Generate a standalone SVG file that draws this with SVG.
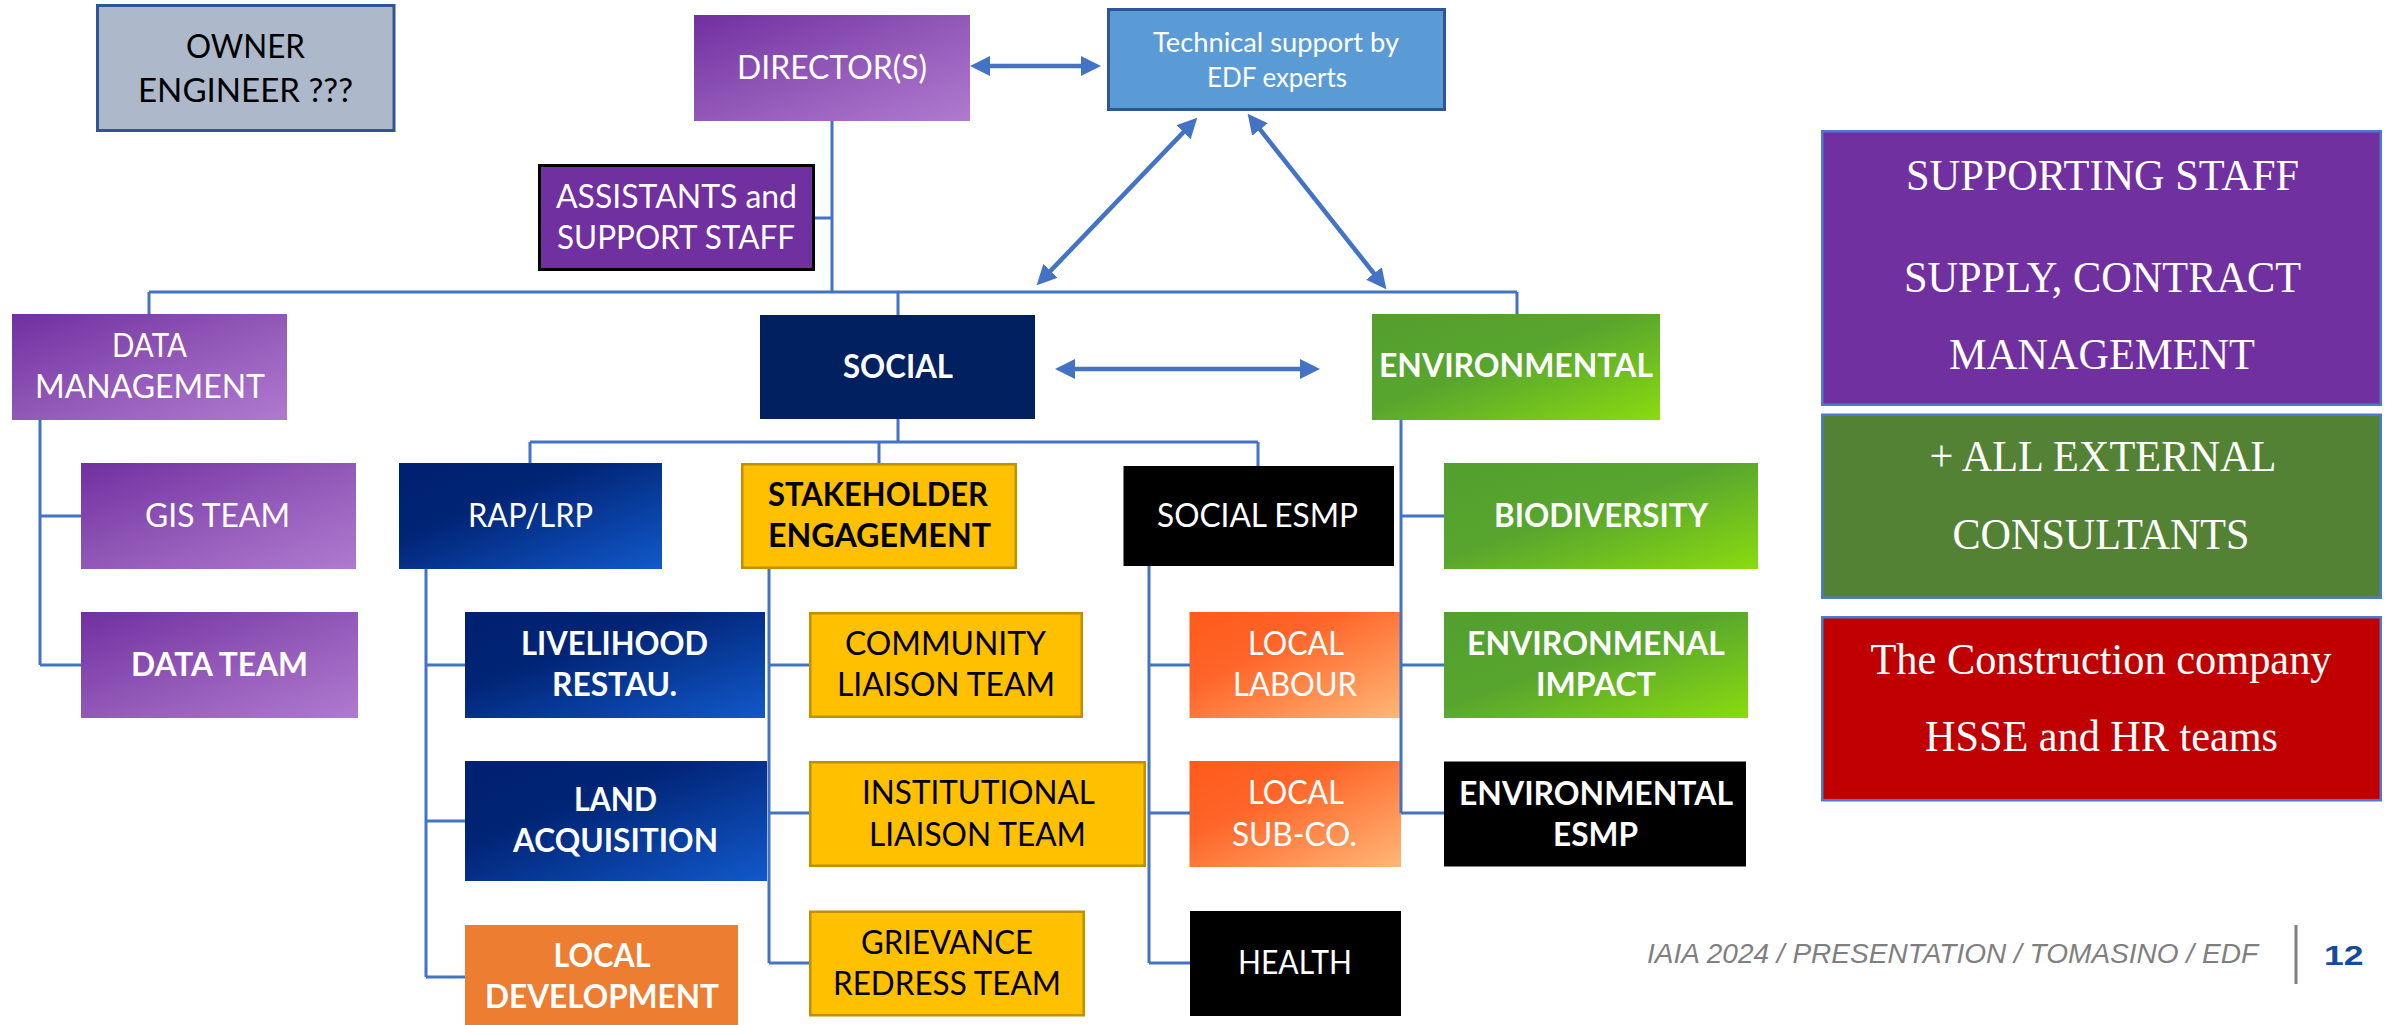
<svg xmlns="http://www.w3.org/2000/svg" width="2392" height="1025" viewBox="0 0 2392 1025">
  <style>
    .t { font-family: Lato, "Open Sans", "Liberation Sans", sans-serif; font-size: 33px; text-anchor: middle; }
    .sm { font-size: 26px; }
    .w { fill: #ffffff; }
    .k { fill: #000000; }
    .b { font-weight: bold; }
    .serif { font-family: "Liberation Serif", "Times New Roman", serif; font-size: 45px; text-anchor: middle; fill: #ffffff; }
    .conn { fill: none; stroke: #4472C4; stroke-width: 3; }
    .arrow { fill: none; stroke: #4472C4; stroke-width: 4.5; marker-start: url(#head); marker-end: url(#head); }
    .yellow { fill: #FFC000; stroke: #BF9000; stroke-width: 2.5; }
    .black { fill: #000000; }
    .side { stroke: #4A7BD0; stroke-width: 2.5; }
    .foot { font-family: "Liberation Sans", Arial, sans-serif; font-size: 28px; }
  </style>
  <defs>
    <linearGradient id="gPurple" x1="0" y1="0" x2="1" y2="1">
      <stop offset="0" stop-color="#7030A0"/>
      <stop offset="0.5" stop-color="#9258B8"/>
      <stop offset="1" stop-color="#B07ACF"/>
    </linearGradient>
    <linearGradient id="gNavy" x1="0" y1="0" x2="1" y2="1">
      <stop offset="0" stop-color="#002070"/>
      <stop offset="0.35" stop-color="#012475"/>
      <stop offset="1" stop-color="#1159CB"/>
    </linearGradient>
    <linearGradient id="gGreen" x1="0" y1="0" x2="1" y2="1">
      <stop offset="0" stop-color="#529F2F"/>
      <stop offset="0.45" stop-color="#58A52E"/>
      <stop offset="1" stop-color="#8ADB10"/>
    </linearGradient>
    <linearGradient id="gOrange" x1="0" y1="0" x2="1" y2="1">
      <stop offset="0" stop-color="#FF5A1B"/>
      <stop offset="0.35" stop-color="#FF6428"/>
      <stop offset="1" stop-color="#FFB777"/>
    </linearGradient>
    <marker id="head" markerUnits="userSpaceOnUse" markerWidth="20" markerHeight="20" refX="7" refY="10" orient="auto-start-reverse" viewBox="0 0 20 20">
      <path d="M0,0 L20,10 L0,20 z" fill="#4472C4"/>
    </marker>
  </defs>

  <rect width="2392" height="1025" fill="#ffffff"/>

  <!-- top level -->
  <g id="owner-engineer">
    <rect x="97.5" y="5.5" width="296.5" height="125" fill="#ADB9CA" stroke="#2F5597" stroke-width="3"/>
    <text class="t k" x="245.5" y="58" textLength="119" lengthAdjust="spacingAndGlyphs">OWNER</text>
    <text class="t k" x="245.5" y="102" textLength="215" lengthAdjust="spacingAndGlyphs">ENGINEER ???</text>
  </g>

  <g id="directors">
    <rect x="694" y="15" width="276" height="106" fill="url(#gPurple)"/>
    <text class="t w" x="832" y="79" textLength="190" lengthAdjust="spacingAndGlyphs">DIRECTOR(S)</text>
  </g>

  <g id="technical-support">
    <rect x="1108.5" y="9.5" width="336" height="100" fill="#5B9BD5" stroke="#2F5597" stroke-width="3"/>
    <text class="t sm w" x="1276" y="52" textLength="246" lengthAdjust="spacingAndGlyphs">Technical support by</text>
    <text class="t sm w" x="1277" y="87" textLength="140" lengthAdjust="spacingAndGlyphs">EDF experts</text>
  </g>

  <g id="assistants">
    <rect x="539.5" y="165.5" width="274" height="104" fill="#7030A0" stroke="#000000" stroke-width="3"/>
    <text class="t w" x="676.5" y="208" textLength="241" lengthAdjust="spacingAndGlyphs">ASSISTANTS and</text>
    <text class="t w" x="676" y="249" textLength="238" lengthAdjust="spacingAndGlyphs">SUPPORT STAFF</text>
  </g>

  <!-- second level -->
  <g id="data-management">
    <rect x="12" y="314" width="275" height="106" fill="url(#gPurple)"/>
    <text class="t w" x="149.5" y="357" textLength="75" lengthAdjust="spacingAndGlyphs">DATA</text>
    <text class="t w" x="150" y="398" textLength="230" lengthAdjust="spacingAndGlyphs">MANAGEMENT</text>
  </g>

  <g id="social">
    <rect x="760" y="315" width="275" height="104" fill="#002060"/>
    <text class="t w b" x="898" y="378" textLength="110" lengthAdjust="spacingAndGlyphs">SOCIAL</text>
  </g>

  <g id="environmental">
    <rect x="1372" y="314" width="288" height="106" fill="url(#gGreen)"/>
    <text class="t w b" x="1516" y="377" textLength="274" lengthAdjust="spacingAndGlyphs">ENVIRONMENTAL</text>
  </g>

  <!-- data management teams -->
  <g id="gis-team">
    <rect x="81" y="463" width="275" height="106" fill="url(#gPurple)"/>
    <text class="t w" x="217.5" y="527" textLength="145" lengthAdjust="spacingAndGlyphs">GIS TEAM</text>
  </g>
  <g id="data-team">
    <rect x="81" y="612" width="277" height="106" fill="url(#gPurple)"/>
    <text class="t w b" x="219.5" y="676" textLength="177" lengthAdjust="spacingAndGlyphs">DATA TEAM</text>
  </g>

  <!-- social branches -->
  <g id="rap-lrp">
    <rect x="399" y="463" width="263" height="106" fill="url(#gNavy)"/>
    <text class="t w" x="530.5" y="527" textLength="125" lengthAdjust="spacingAndGlyphs">RAP/LRP</text>
  </g>
  <g id="livelihood">
    <rect x="465" y="612" width="300" height="106" fill="url(#gNavy)"/>
    <text class="t w b" x="614.5" y="654.5" textLength="187" lengthAdjust="spacingAndGlyphs">LIVELIHOOD</text>
    <text class="t w b" x="614.5" y="696" textLength="125" lengthAdjust="spacingAndGlyphs">RESTAU.</text>
  </g>
  <g id="land-acquisition">
    <rect x="465" y="761" width="302" height="120" fill="url(#gNavy)"/>
    <text class="t w b" x="615.5" y="811" textLength="83" lengthAdjust="spacingAndGlyphs">LAND</text>
    <text class="t w b" x="615.5" y="852" textLength="205" lengthAdjust="spacingAndGlyphs">ACQUISITION</text>
  </g>
  <g id="local-development">
    <rect x="465" y="925" width="273" height="100" fill="#ED7D31"/>
    <text class="t w b" x="602" y="967" textLength="97" lengthAdjust="spacingAndGlyphs">LOCAL</text>
    <text class="t w b" x="602" y="1008" textLength="234" lengthAdjust="spacingAndGlyphs">DEVELOPMENT</text>
  </g>

  <g id="stakeholder-engagement">
    <rect class="yellow" x="742.25" y="464.25" width="273.5" height="103.5"/>
    <text class="t k b" x="878" y="506" textLength="220" lengthAdjust="spacingAndGlyphs">STAKEHOLDER</text>
    <text class="t k b" x="879.5" y="547" textLength="223" lengthAdjust="spacingAndGlyphs">ENGAGEMENT</text>
  </g>
  <g id="community-liaison">
    <rect class="yellow" x="810.25" y="613.25" width="271.5" height="103.5"/>
    <text class="t k" x="945.5" y="655" textLength="201" lengthAdjust="spacingAndGlyphs">COMMUNITY</text>
    <text class="t k" x="946" y="696" textLength="218" lengthAdjust="spacingAndGlyphs">LIAISON TEAM</text>
  </g>
  <g id="institutional-liaison">
    <rect class="yellow" x="810.25" y="762.25" width="334.5" height="103.5"/>
    <text class="t k" x="978.5" y="804" textLength="233" lengthAdjust="spacingAndGlyphs">INSTITUTIONAL</text>
    <text class="t k" x="977.5" y="845.5" textLength="217" lengthAdjust="spacingAndGlyphs">LIAISON TEAM</text>
  </g>
  <g id="grievance-redress">
    <rect class="yellow" x="810.25" y="911.75" width="273.5" height="103.5"/>
    <text class="t k" x="947" y="954" textLength="172" lengthAdjust="spacingAndGlyphs">GRIEVANCE</text>
    <text class="t k" x="947" y="995" textLength="228" lengthAdjust="spacingAndGlyphs">REDRESS TEAM</text>
  </g>

  <g id="social-esmp">
    <rect class="black" x="1123.5" y="466" width="270.5" height="100"/>
    <text class="t w" x="1257.5" y="527" textLength="201" lengthAdjust="spacingAndGlyphs">SOCIAL ESMP</text>
  </g>
  <g id="local-labour">
    <rect x="1189.5" y="612" width="211.5" height="106" fill="url(#gOrange)"/>
    <text class="t w" x="1296" y="655" textLength="96" lengthAdjust="spacingAndGlyphs">LOCAL</text>
    <text class="t w" x="1295" y="696" textLength="124" lengthAdjust="spacingAndGlyphs">LABOUR</text>
  </g>
  <g id="local-subco">
    <rect x="1189.5" y="761" width="211.5" height="106" fill="url(#gOrange)"/>
    <text class="t w" x="1296" y="804" textLength="96" lengthAdjust="spacingAndGlyphs">LOCAL</text>
    <text class="t w" x="1294.5" y="845.5" textLength="125" lengthAdjust="spacingAndGlyphs">SUB-CO.</text>
  </g>
  <g id="health">
    <rect class="black" x="1190" y="911" width="211" height="105"/>
    <text class="t w" x="1295" y="974" textLength="114" lengthAdjust="spacingAndGlyphs">HEALTH</text>
  </g>

  <!-- environmental branches -->
  <g id="biodiversity">
    <rect x="1444" y="463" width="314" height="106" fill="url(#gGreen)"/>
    <text class="t w b" x="1601" y="527" textLength="214" lengthAdjust="spacingAndGlyphs">BIODIVERSITY</text>
  </g>
  <g id="environmental-impact">
    <rect x="1444" y="612" width="304" height="106" fill="url(#gGreen)"/>
    <text class="t w b" x="1596" y="654.5" textLength="258" lengthAdjust="spacingAndGlyphs">ENVIRONMENAL</text>
    <text class="t w b" x="1596" y="696" textLength="120" lengthAdjust="spacingAndGlyphs">IMPACT</text>
  </g>
  <g id="environmental-esmp">
    <rect class="black" x="1444" y="761.5" width="302" height="105"/>
    <text class="t w b" x="1596" y="804.5" textLength="274" lengthAdjust="spacingAndGlyphs">ENVIRONMENTAL</text>
    <text class="t w b" x="1595.5" y="845.5" textLength="85" lengthAdjust="spacingAndGlyphs">ESMP</text>
  </g>

  <!-- side panel -->
  <g id="supporting-staff">
    <rect class="side" x="1822.25" y="131.25" width="558.5" height="273.5" fill="#7030A0"/>
    <text class="serif" x="2102.5" y="189.5" textLength="393" lengthAdjust="spacingAndGlyphs">SUPPORTING STAFF</text>
    <text class="serif" x="2102.5" y="292" textLength="397" lengthAdjust="spacingAndGlyphs">SUPPLY, CONTRACT</text>
    <text class="serif" x="2102" y="368.5" textLength="306" lengthAdjust="spacingAndGlyphs">MANAGEMENT</text>
  </g>
  <g id="external-consultants">
    <rect class="side" x="1822.25" y="414.75" width="558.5" height="183" fill="#548235"/>
    <text class="serif" x="2103" y="471" textLength="347" lengthAdjust="spacingAndGlyphs">+ ALL EXTERNAL</text>
    <text class="serif" x="2101" y="548.5" textLength="297" lengthAdjust="spacingAndGlyphs">CONSULTANTS</text>
  </g>
  <g id="construction-company">
    <rect class="side" x="1822.25" y="617.25" width="558.5" height="183" fill="#C00000"/>
    <text class="serif" x="2101" y="674" textLength="461" lengthAdjust="spacingAndGlyphs">The Construction company</text>
    <text class="serif" x="2101.5" y="750.5" textLength="353" lengthAdjust="spacingAndGlyphs">HSSE and HR teams</text>
  </g>

  <!-- footer -->
  <g id="footer">
    <text class="foot" x="1647" y="963" fill="#7F7F7F" font-style="italic" textLength="611" lengthAdjust="spacingAndGlyphs">IAIA 2024 / PRESENTATION / TOMASINO / EDF</text>
    <line x1="2296" y1="925" x2="2296" y2="984" stroke="#7F7F7F" stroke-width="3"/>
    <text class="foot" x="2324" y="965" fill="#154A9C" font-weight="bold" textLength="39.5" lengthAdjust="spacingAndGlyphs">12</text>
  </g>

  <!-- connectors -->
  <g id="connectors">
    <path class="conn" d="M832,121 V292 M815,218 H832 M149,292 H1517 M149,292 V314 M898,292 V315 M1517,292 V314"/>
    <path class="conn" d="M898,419 V442 M530,442 H1258 M530,442 V463 M879,442 V463 M1258,442 V466"/>
    <path class="conn" d="M40,420 V665 M40,516 H81 M40,665 H81"/>
    <path class="conn" d="M426,569 V977 M426,665 H465 M426,821 H465 M426,977 H465"/>
    <path class="conn" d="M769,569 V963 M769,665 H809 M769,813 H809 M769,963 H809"/>
    <path class="conn" d="M1149,566 V963 M1149,665 H1190 M1149,813 H1190 M1149,963 H1190"/>
    <path class="conn" d="M1401,420 V813 M1401,516 H1444 M1401,665 H1444 M1401,813 H1444"/>
    <line class="arrow" x1="983" y1="66" x2="1088" y2="66"/>
    <line class="arrow" x1="1068" y1="369" x2="1307" y2="369"/>
    <line class="arrow" x1="1188.3" y1="127.1" x2="1045.7" y2="275.9"/>
    <line class="arrow" x1="1255.7" y1="124" x2="1378.3" y2="279"/>
  </g>
</svg>
